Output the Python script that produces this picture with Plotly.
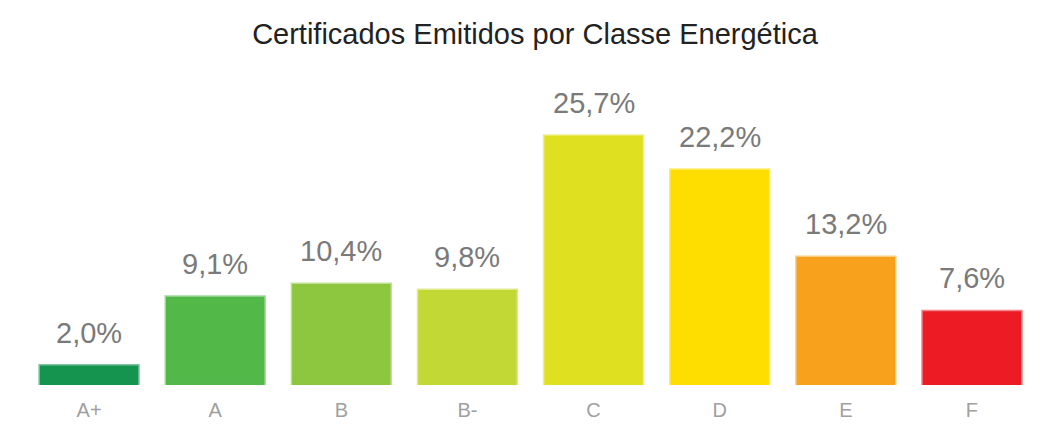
import plotly.graph_objects as go

classes = ["A+", "A", "B", "B-", "C", "D", "E", "F"]
shares = [2.0, 9.1, 10.4, 9.8, 25.7, 22.2, 13.2, 7.6]
colors = ["#159450", "#52b848", "#8dc63f", "#c2d834", "#dfe01f", "#fedd00", "#f7a11c", "#ed1c24"]


def hex_to_rgba(h, a):
    h = h.lstrip("#")
    r, g, b = int(h[0:2], 16), int(h[2:4], 16), int(h[4:6], 16)
    return f"rgba({r},{g},{b},{a})"


def fmt(v):
    return f"{v:.1f}".replace(".", ",") + "%"


fig = go.Figure()

fig.add_trace(go.Bar(
    x=classes,
    y=shares,
    marker=dict(
        color=colors,
        line=dict(color=[hex_to_rgba(c, 0.55) for c in colors], width=3)
    ),
    hoverinfo="skip",
    showlegend=False
))

# value labels floating above bars
for c, v in zip(classes, shares):
    fig.add_annotation(
        x=c, y=v, text=fmt(v), showarrow=False,
        yanchor="bottom", yshift=15,
        font=dict(size=29, color="#7a7a7a", family="Arial, Liberation Sans")
    )

fig.update_layout(
    title=dict(
        text="Certificados Emitidos por Classe Energética",
        x=0.5, xanchor="center", y=0.94, yanchor="middle",
        font=dict(size=29, color="#222222", family="Arial, Liberation Sans")
    ),
    width=1054,
    height=432,
    plot_bgcolor="white",
    paper_bgcolor="white",
    bargap=0.22,
    margin=dict(t=86, b=55, l=18, r=27),
    xaxis=dict(
        showgrid=False, showline=False, zeroline=False,
        ticks="outside", ticklen=7, tickcolor="white",
        tickfont=dict(size=20, color="#a0a0a0", family="Arial, Liberation Sans")
    ),
    yaxis=dict(range=[0, 30], visible=False),
)

fig.write_html("out.html")
